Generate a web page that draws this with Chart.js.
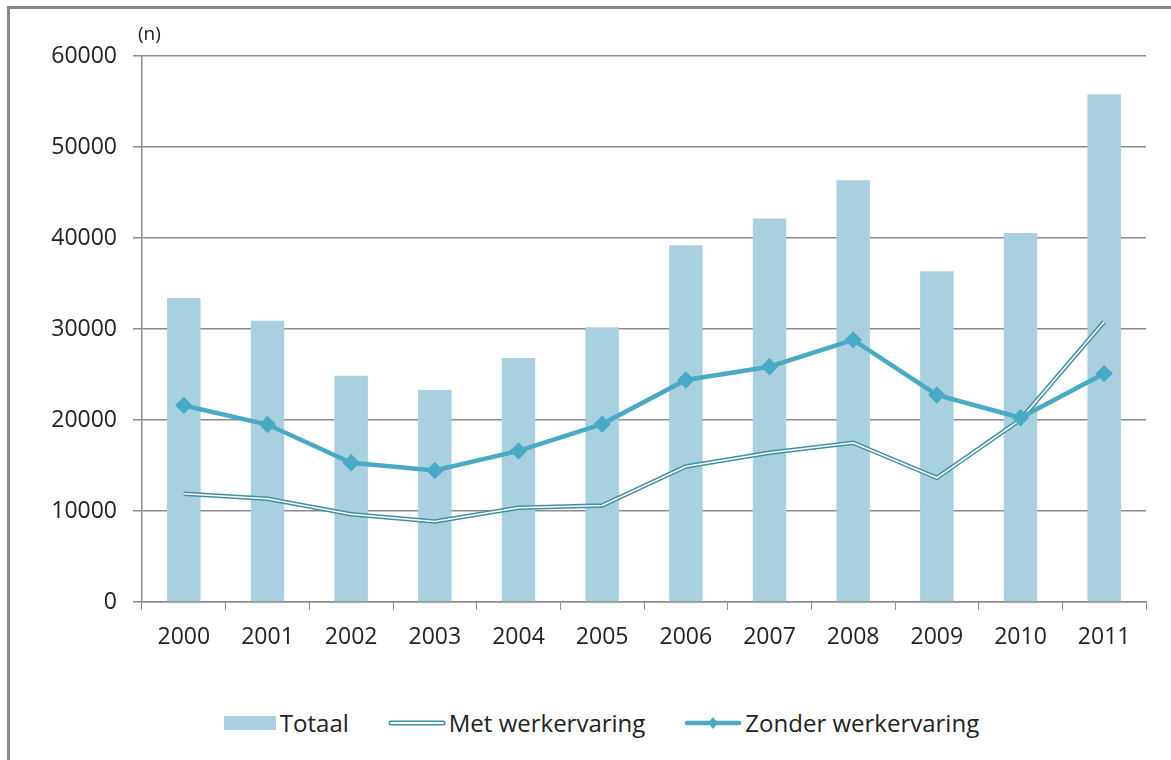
<!DOCTYPE html>
<html>
<head>
<meta charset="utf-8">
<script src="https://cdn.jsdelivr.net/npm/chart.js@4"></script>
<style>
  body { margin: 0; background: #fff; font-family: "Open Sans", sans-serif; }
  #wrap { position: relative; width: 1171px; height: 760px; overflow: hidden; }
  #frame { position: absolute; left: 7px; top: 6px; width: 1200px; height: 800px;
           border-top: 3px solid #888; border-left: 3px solid #888; }
  #box { position: absolute; left: 0; top: 0; width: 1171px; height: 670px; }
  #unit { position: absolute; left: 138px; top: 20px; font-size: 19px; color: #222; }
  #legend { position: absolute; top: 706px; left: 15px; width: 1171px; display: flex;
            justify-content: center; align-items: center; font-size: 24px; color: #222; }
  .item { display: flex; align-items: center; margin: 0 19px; }
  .sw { margin-right: 2px; }
</style>
</head>
<body>
<div id="wrap">
  <div id="frame"></div>
  <div id="box"><canvas id="chart"></canvas></div>
  <div id="unit">(n)</div>
  <div id="legend">
    <div class="item"><svg class="sw" width="56" height="20"><rect x="2" y="3" width="52" height="14" fill="#a9d0de"/></svg>Totaal</div>
    <div class="item"><svg class="sw" width="60" height="20"><line x1="4" y1="10" x2="56" y2="10" stroke="#3f8fa4" stroke-width="5" stroke-linecap="round"/><line x1="4" y1="10" x2="56" y2="10" stroke="#fff" stroke-width="2" stroke-linecap="round"/></svg>Met werkervaring</div>
    <div class="item"><svg class="sw" width="60" height="20"><line x1="4" y1="10" x2="56" y2="10" stroke="#4aaac5" stroke-width="4.5" stroke-linecap="round"/><polygon points="30,4 35,10 30,16 25,10" fill="#4aaac5"/></svg>Zonder werkervaring</div>
  </div>
</div>
<script>
const years = ['2000', '2001', '2002', '2003', '2004', '2005', '2006', '2007', '2008', '2009', '2010', '2011'];
const totaal = [33400, 30900, 24850, 23300, 26800, 30200, 39200, 42150, 46350, 36350, 40550, 55800];
const metWerk = [11900, 11350, 9650, 8850, 10350, 10600, 14900, 16400, 17500, 13650, 20050, 30800];
const zonderWerk = [21600, 19500, 15300, 14450, 16600, 19550, 24400, 25850, 28800, 22750, 20250, 25100];
const yTicks = [0, 10000, 20000, 30000, 40000, 50000, 60000];

const ctx = document.getElementById('chart').getContext('2d');
new Chart(ctx, {
  data: {
    labels: years,
    datasets: [
      {
        type: 'line', label: 'Zonder werkervaring', data: zonderWerk,
        borderColor: '#4aaac5', backgroundColor: '#4aaac5', borderWidth: 4.5,
        pointStyle: 'rectRot', pointRadius: 5.5, pointHoverRadius: 5.5,
        tension: 0, order: 1
      },
      {
        type: 'line', label: 'Met werkervaring (inner)', data: metWerk,
        borderColor: '#ffffff', borderWidth: 1.6, pointRadius: 0,
        tension: 0, order: 2
      },
      {
        type: 'line', label: 'Met werkervaring', data: metWerk,
        borderColor: '#3f8fa4', borderWidth: 4.5, pointRadius: 0,
        tension: 0, order: 3
      },
      {
        type: 'bar', label: 'Totaal', data: totaal,
        backgroundColor: '#a9d0de', barPercentage: 0.8, categoryPercentage: 0.5,
        order: 4
      }
    ]
  },
  options: {
    responsive: true,
    maintainAspectRatio: false,
    animation: false,
    layout: { padding: { top: 56, right: 25, left: 0, bottom: 0 } },
    plugins: { legend: { display: false }, tooltip: { enabled: false } },
    scales: {
      x: {
        offset: true,
        grid: { display: true, drawOnChartArea: false, offset: true, color: '#8c8c8c', tickLength: 8 },
        border: { color: '#8c8c8c', width: 1.5 },
        ticks: { color: '#222', font: { family: 'Open Sans', size: 23 }, padding: 14, maxRotation: 0 },
        afterFit: s => { s.height = 68; }
      },
      y: {
        min: 0, max: 60000,
        afterBuildTicks: s => { s.ticks = yTicks.map(v => ({ value: v })); },
        grid: { color: '#8c8c8c', lineWidth: 1.5, tickLength: 9 },
        border: { color: '#8c8c8c', width: 1.5 },
        ticks: { color: '#222', font: { family: 'Open Sans', size: 23 }, padding: 16,
                 callback: v => String(v) },
        afterFit: s => { s.width = 142; }
      }
    }
  }
});
</script>
</body>
</html>
